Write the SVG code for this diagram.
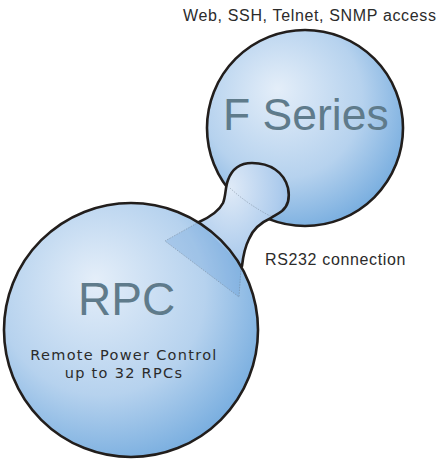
<svg xmlns="http://www.w3.org/2000/svg" width="442" height="459" viewBox="0 0 442 459">
  <defs>
    <radialGradient id="bubble" cx="0.4" cy="0.38" r="0.68" fx="0.36" fy="0.3">
      <stop offset="0" stop-color="#e4eef9"/>
      <stop offset="0.6" stop-color="#b6d2ee"/>
      <stop offset="1" stop-color="#74abde"/>
    </radialGradient>
    <radialGradient id="neckFill" cx="0.35" cy="0.2" r="0.9">
      <stop offset="0" stop-color="#dfeaf7"/>
      <stop offset="0.6" stop-color="#aecced"/>
      <stop offset="1" stop-color="#7fb1e0"/>
    </radialGradient>
    <style>
      .outline { stroke: #221e1c; stroke-width: 2.6; }
      .big { font-family: "Liberation Sans", Arial, sans-serif; fill: #5f7b8b; }
      .label { font-family: "Liberation Sans", Arial, sans-serif; font-size: 16px; letter-spacing: 0.65px; fill: #2b2b2b; }
      .sub { font-family: "DejaVu Sans", Verdana, sans-serif; font-size: 14.5px; letter-spacing: 1.3px; fill: #2b2b2b; text-anchor: middle; }
      .ghost { fill: none; stroke: #6f7f8f; stroke-width: 0.8; stroke-dasharray: 1.5 1.2; opacity: 0.6; }
    </style>
  </defs>

  <!-- F Series bubble -->
  <g id="f-series">
    <circle cx="305" cy="128" r="98" fill="url(#bubble)" class="outline"/>
    <text class="big" x="223" y="130" font-size="44.5">F Series</text>
  </g>

  <!-- serial link drawn as a neck between the two bubbles -->
  <g id="connectors">
    <path d="M199,222 C210,217 219,211 223,203 C226,196 225,188 228,180 C232,169 240,163 252,163 C270,163 284,172 288,188 C290,198 288,206 282,211 C278,214 274,216 271,218 C262,222 253,229 249,239 C244,249 243,257 242,266 L200,290 Z" fill="url(#neckFill)" class="outline" stroke-linejoin="round"/>
    <path d="M230,188 Q247,204 272,217" class="ghost"/>
  </g>

  <!-- RPC bubble -->
  <g id="rpc">
    <circle cx="131" cy="330" r="127" fill="url(#bubble)"/>
    <path d="M165,241 L199,222 L242,266 L239,297 Z" fill="#4f8fd0" opacity="0.22"/>
    <path d="M199,222 L165,241 L239,297 L241,268" class="ghost"/>
    <circle cx="131" cy="330" r="127" fill="none" class="outline"/>
    <text class="big" x="78" y="315" font-size="46">RPC</text>
    <text class="sub" x="124" y="360">Remote Power Control</text>
    <text class="sub" x="124" y="378">up to 32 RPCs</text>
  </g>

  <g id="labels">
    <text class="label" x="183" y="21">Web, SSH, Telnet, SNMP access</text>
    <text class="label" x="265" y="265" letter-spacing="0.45">RS232 connection</text>
  </g>
</svg>
